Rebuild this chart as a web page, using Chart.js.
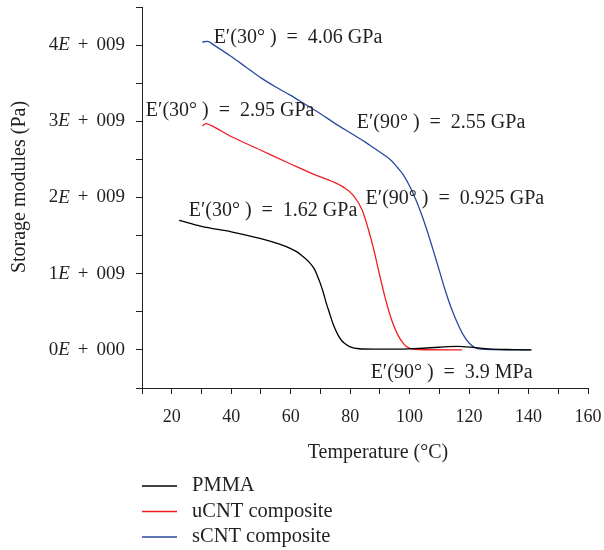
<!DOCTYPE html>
<html>
<head>
<meta charset="utf-8">
<script src="https://cdn.jsdelivr.net/npm/chart.js@4"></script>
<style>
  html, body { margin: 0; padding: 0; background: #fff; }
</style>
</head>
<body>
<canvas id="dmaCanvas" width="604" height="550"></canvas>
<script>
// curvas DMA (temperatura en °C, modulo en Pa)
const pmmaTemp = [22.5, 30, 40, 50, 56, 60, 62, 64, 66, 68, 69, 70, 71, 72, 73, 74, 75, 76, 77, 78, 80, 83, 88, 95, 103, 110, 116, 122, 128, 135, 141];
const pmmaModulus = [1.70e9, 1.62e9, 1.55e9, 1.46e9, 1.39e9, 1.33e9, 1.29e9, 1.23e9, 1.16e9, 1.06e9, 0.97e9, 0.87e9, 0.75e9, 0.61e9, 0.49e9, 0.37e9, 0.27e9, 0.19e9, 0.13e9, 0.09e9, 0.04e9, 0.015e9, 0.01e9, 0.01e9, 0.02e9, 0.035e9, 0.045e9, 0.03e9, 0.01e9, 0.004e9, 0];

const ucntTemp = [30.3, 31.5, 33, 40, 50, 60, 68, 74, 78, 81, 84, 86, 88, 90, 92, 94, 96, 98, 100, 103, 117.6];
const ucntModulus = [2.94e9, 2.97e9, 2.95e9, 2.80e9, 2.62e9, 2.44e9, 2.30e9, 2.21e9, 2.13e9, 2.03e9, 1.84e9, 1.60e9, 1.31e9, 0.97e9, 0.65e9, 0.39e9, 0.20e9, 0.08e9, 0.02e9, 0.005e9, 0];

const scntTemp = [30.3, 32, 34.2, 40, 45, 50, 55, 60, 65, 70, 75, 80, 85, 88, 91, 94, 96, 98, 100, 102, 104, 106, 108, 110, 112, 114, 116, 118, 120, 122, 124, 128, 140.7];
const scntModulus = [4.04e9, 4.05e9, 4.00e9, 3.85e9, 3.71e9, 3.57e9, 3.45e9, 3.34e9, 3.22e9, 3.10e9, 2.97e9, 2.85e9, 2.73e9, 2.65e9, 2.57e9, 2.48e9, 2.39e9, 2.29e9, 2.15e9, 1.98e9, 1.78e9, 1.55e9, 1.30e9, 1.04e9, 0.78e9, 0.55e9, 0.36e9, 0.20e9, 0.09e9, 0.03e9, 0.01e9, 0.004e9, 0];

const seriesNames = ["PMMA", "uCNT composite", "sCNT composite"];
const seriesColors = ["#000000", "#ee1d23", "#2b4aa0"];

// etiquetas del eje y (mantisa / exponente)
const yTickValues = [0, 1e9, 2e9, 3e9, 4e9];
const yTickMantissa = ["0", "1", "2", "3", "4"];
const yTickExponent = ["000", "009", "009", "009", "009"];

// anotaciones sobre la grafica
const noteTexts = [
  "E\u2032(30\u00b0 )\u2002=\u20024.06 GPa",
  "E\u2032(30\u00b0 )\u2002=\u20022.95 GPa",
  "E\u2032(90\u00b0 )\u2002=\u20022.55 GPa",
  "E\u2032(90\u00b0 )\u2002=\u20020.925 GPa",
  "E\u2032(30\u00b0 )\u2002=\u20021.62 GPa",
  "E\u2032(90\u00b0 )\u2002=\u20023.9 MPa"
];
const noteTemps = [34.1, 11.3, 82.2, 85.2, 25.7, 86.9];
const noteModuli = [4.10e9, 3.14e9, 2.98e9, 1.98e9, 1.83e9, -0.30e9];

const textColor = "#231f20";
const serif = "'Liberation Serif', 'Times New Roman', serif";

function toPoints(xs, ys) {
  return xs.map((x, i) => ({ x: x, y: ys[i] }));
}

const decorPlugin = {
  id: "decor",
  afterDraw(chart) {
    const ctx = chart.ctx;
    const xs = chart.scales.x;
    const ys = chart.scales.y;
    ctx.save();
    ctx.fillStyle = textColor;
    ctx.textBaseline = "middle";

    // etiquetas del eje y con la E en cursiva
    yTickValues.forEach((v, i) => {
      const y = ys.getPixelForValue(v);
      let x = 125;
      ctx.textAlign = "right";
      ctx.font = "19px " + serif;
      ctx.fillText(yTickExponent[i], x, y);
      x -= ctx.measureText(yTickExponent[i]).width + 8;
      ctx.fillText("+", x, y);
      x -= ctx.measureText("+").width + 8;
      ctx.font = "italic 19px " + serif;
      ctx.fillText("E", x, y);
      x -= ctx.measureText("E").width;
      ctx.font = "19px " + serif;
      ctx.fillText(yTickMantissa[i], x, y);
    });

    // titulos de los ejes
    ctx.font = "20px " + serif;
    ctx.textAlign = "center";
    ctx.fillText("Temperature (\u00b0C)", 378, 453);
    ctx.save();
    ctx.translate(20, 187);
    ctx.rotate(-Math.PI / 2);
    ctx.fillText("Storage modules (Pa)", 0, 0);
    ctx.restore();

    // anotaciones
    ctx.font = "20px " + serif;
    ctx.textAlign = "left";
    noteTexts.forEach((t, i) => {
      ctx.fillText(t, xs.getPixelForValue(noteTemps[i]), ys.getPixelForValue(noteModuli[i]));
    });

    // leyenda vertical debajo del grafico
    ctx.font = "20.5px " + serif;
    chart.data.datasets.forEach((ds, i) => {
      const y = 486 + i * 25.5;
      ctx.strokeStyle = ds.borderColor;
      ctx.lineWidth = 1.3;
      ctx.beginPath();
      ctx.moveTo(142, y);
      ctx.lineTo(177, y);
      ctx.stroke();
      ctx.fillText(ds.label, 192, y);
    });
    ctx.restore();
  }
};

const ctx = document.getElementById("dmaCanvas").getContext("2d");

new Chart(ctx, {
  type: "scatter",
  data: {
    datasets: [
      { label: seriesNames[0], data: toPoints(pmmaTemp, pmmaModulus), borderColor: seriesColors[0] },
      { label: seriesNames[1], data: toPoints(ucntTemp, ucntModulus), borderColor: seriesColors[1] },
      { label: seriesNames[2], data: toPoints(scntTemp, scntModulus), borderColor: seriesColors[2] }
    ].map(ds => Object.assign(ds, {
      showLine: true,
      pointRadius: 0,
      borderWidth: 1.3,
      fill: false,
      cubicInterpolationMode: "monotone"
    }))
  },
  options: {
    responsive: false,
    animation: false,
    devicePixelRatio: 1,
    layout: { padding: { top: 7, right: 16, left: 0, bottom: 0 } },
    plugins: {
      legend: { display: false },
      tooltip: { enabled: false }
    },
    scales: {
      x: {
        type: "linear",
        min: 10,
        max: 160,
        afterFit: s => { s.height = 162; s.paddingLeft = 0; s.paddingRight = 0; },
        border: { display: true, color: textColor, width: 1 },
        grid: { drawOnChartArea: false, drawTicks: true, tickLength: 6, color: textColor },
        ticks: {
          stepSize: 10,
          padding: 12,
          color: textColor,
          font: { family: serif, size: 18 },
          maxRotation: 0,
          autoSkip: false,
          callback: v => (v % 20 === 0 && v >= 20) ? String(v) : ""
        }
      },
      y: {
        type: "linear",
        min: -0.5e9,
        max: 4.5e9,
        afterFit: s => { s.width = 142; s.paddingTop = 0; s.paddingBottom = 0; },
        border: { display: true, color: textColor, width: 1 },
        grid: { drawOnChartArea: false, drawTicks: true, tickLength: 6, color: textColor },
        ticks: {
          stepSize: 0.5e9,
          display: false
        }
      }
    }
  },
  plugins: [decorPlugin]
});
</script>
</body>
</html>
